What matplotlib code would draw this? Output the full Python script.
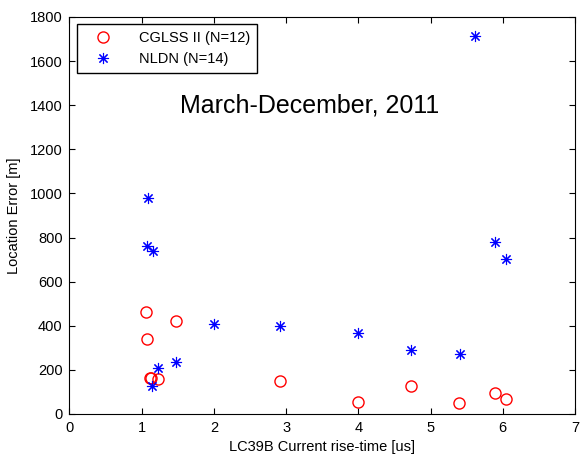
import matplotlib
matplotlib.use("Agg")
import matplotlib.pyplot as plt

plt.rcParams['font.family'] = ['Liberation Sans', 'DejaVu Sans']

# CGLSS II location errors vs. current rise-time
cglss_rise = [1.06, 1.08, 1.475, 1.12, 1.13, 1.23, 2.91, 3.99, 4.73, 5.40, 5.89, 6.04]
cglss_err = [464, 341, 422, 165, 162, 159, 150, 53, 128, 48, 95, 70]

# NLDN location errors vs. current rise-time
nldn_rise = [1.09, 1.07, 1.15, 2.005, 1.475, 1.23, 1.14, 2.91, 3.99, 4.73, 5.41, 5.89, 6.04, 5.61]
nldn_err = [980, 762, 739, 407, 237, 210, 128, 399, 369, 290, 273, 781, 703, 1713]

xticks = [0, 1, 2, 3, 4, 5, 6, 7]
yticks = [0, 200, 400, 600, 800, 1000, 1200, 1400, 1600, 1800]

fig = plt.figure(figsize=(5.81, 4.58), dpi=100)
ax = fig.add_axes([0.1196, 0.0961, 0.8701, 0.8668])

ax.plot(cglss_rise, cglss_err, linestyle='none', marker='o', markersize=8,
        markerfacecolor='none', markeredgecolor='red', markeredgewidth=1.0,
        label='CGLSS II (N=12)')
ax.plot(nldn_rise, nldn_err, linestyle='none', marker=(8, 2, 0), markersize=8,
        color='blue', markeredgewidth=0.8, label='NLDN (N=14)')

ax.set_xlim(0, 7)
ax.set_ylim(0, 1800)
ax.set_xticks(xticks)
ax.set_yticks(yticks)
ax.tick_params(direction='in', top=True, right=True, length=4, width=0.8,
               labelsize=10.5, pad=5)
for s in ax.spines.values():
    s.set_linewidth(0.8)

ax.set_xlabel('LC39B Current rise-time [us]', fontsize=10.5, labelpad=4)
ax.set_ylabel('Location Error [m]', fontsize=10.5, labelpad=6)

ax.text(0.476, 0.776, 'March-December, 2011', transform=ax.transAxes,
        ha='center', va='center', fontsize=18)

leg = ax.legend(loc='upper left', bbox_to_anchor=(0.015, 0.982), fontsize=10.5,
                frameon=True, fancybox=False, edgecolor='black', framealpha=1,
                borderpad=0.45, borderaxespad=0, handletextpad=1.2,
                labelspacing=0.5, handlelength=2.6)
leg.get_frame().set_linewidth(1.0)

fig.savefig('out.png', dpi=100)
